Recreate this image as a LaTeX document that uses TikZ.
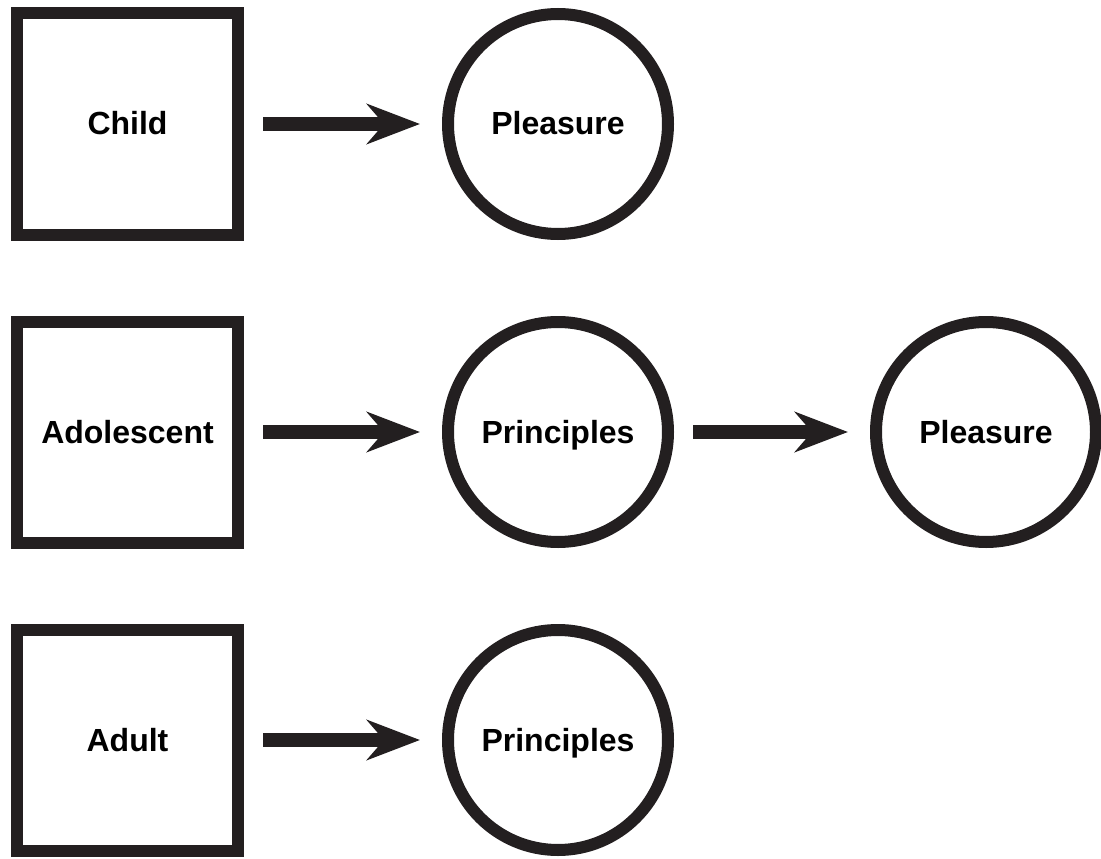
\documentclass[tikz,border=0pt]{standalone}
\usepackage{fontspec}
\setmainfont{Liberation Sans}
\usepackage{xcolor}
\usetikzlibrary {positioning,arrows.meta}
\definecolor{ink}{HTML}{231F20}

\begin{document}
\begin{tikzpicture}
		[agebox/.style={rectangle,draw=ink,line width=12pt,inner sep=0pt, minimum size=221pt,text height=23pt,text depth=1pt,font=\bfseries\fontsize{32}{38}\selectfont},
		drive/.style={circle,draw=ink,line width=12pt,inner sep=0pt, minimum size=220pt,text height=23pt,text depth=1pt,font=\bfseries\fontsize{32}{38}\selectfont},
		push/.style={-{Stealth[length=53pt,width=40pt,inset=17pt]},draw=ink,fill=ink,line width=14pt, shorten <=19pt, shorten >=22pt}]
		\useasboundingbox (0pt,0pt) rectangle (1101pt,-859pt);
		\node [agebox] (child) at (127.5pt,-124pt) {Child};
		\node [drive] (c1) [right=198pt of child]{Pleasure};

		\node [agebox] (adolescent) [below=75pt of child]{Adolescent};
		\node [drive] (a1) [right=198pt of adolescent]{Principles};
		\node [drive] (a2) [right=196pt of a1]{Pleasure};

		\node [agebox] (adult) [below=75pt of adolescent]{Adult};
		\node [drive] (d1) [right=198pt of adult]{Principles};

		\draw [push] (child) -- (c1);
		\draw [push] (adolescent) -- (a1);
		\draw [push] (a1) -- (a2);
		\draw [push] (adult) -- (d1);

	\end{tikzpicture}
\end{document}
